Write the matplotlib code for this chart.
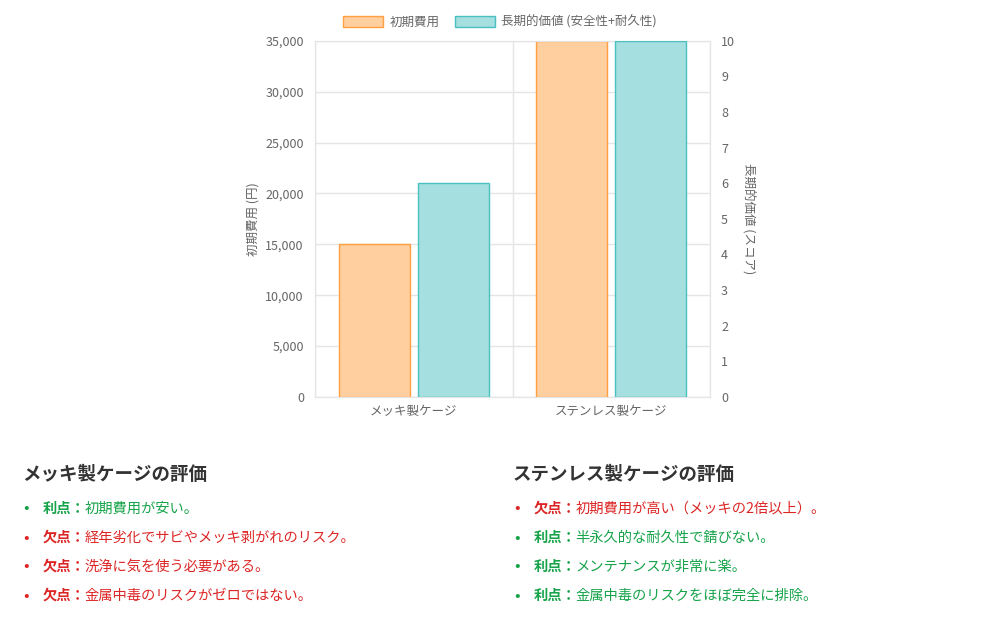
import matplotlib
matplotlib.use("Agg")
import matplotlib.pyplot as plt
from matplotlib.ticker import FuncFormatter, MultipleLocator

plt.rcParams["font.family"] = "Noto Sans CJK JP"

categories = ["メッキ製ケージ", "ステンレス製ケージ"]
initial_cost = [15000, 35000]
long_value = [6, 10]
legend_labels = ["初期費用", "長期的価値 (安全性+耐久性)"]

left_title = "メッキ製ケージの評価"
left_items = [("利点", "初期費用が安い。"), ("欠点", "経年劣化でサビやメッキ剥がれのリスク。"),
              ("欠点", "洗浄に気を使う必要がある。"), ("欠点", "金属中毒のリスクがゼロではない。")]
right_title = "ステンレス製ケージの評価"
right_items = [("欠点", "初期費用が高い（メッキの2倍以上）。"), ("利点", "半永久的な耐久性で錆びない。"),
               ("利点", "メンテナンスが非常に楽。"), ("利点", "金属中毒のリスクをほぼ完全に排除。")]

fig = plt.figure(figsize=(10, 6.28), dpi=100)
ax = fig.add_axes([0.315, 0.368, 0.395, 0.567])
ax2 = ax.twinx()

x = [0, 1]
w = 0.36
ax.bar([i - 0.2 for i in x], initial_cost, w, color="#FFCF9F", edgecolor="#FF9F40", linewidth=1, label=legend_labels[0], zorder=3)
ax2.bar([i + 0.2 for i in x], long_value, w, color="#A5DFDF", edgecolor="#4BC0C0", linewidth=1, label=legend_labels[1], zorder=3)

ax.set_xlim(-0.5, 1.5)
ax.set_ylim(0, 35000)
ax2.set_ylim(0, 10)
ax.yaxis.set_major_locator(MultipleLocator(5000))
ax.yaxis.set_major_formatter(FuncFormatter(lambda v, p: f"{int(v):,}"))
ax2.yaxis.set_major_locator(MultipleLocator(1))
ax.set_xticks(x)
ax.set_xticklabels(categories)
ax.set_xticks([-0.5, 0.5, 1.5], minor=True)
ax.grid(True, axis="y", color="#e5e5e5", linewidth=1, zorder=0)
ax.grid(True, axis="x", which="minor", color="#e5e5e5", linewidth=1, zorder=0)
ax.tick_params(axis="x", which="both", length=0, colors="#666666", labelsize=9, pad=6)
ax.tick_params(axis="y", length=0, colors="#666666", labelsize=9, pad=8)
ax2.tick_params(axis="y", length=0, colors="#666666", labelsize=9, pad=8)
for a in (ax, ax2):
    for s in a.spines.values():
        s.set_color("#e5e5e5")
ax.set_ylabel("初期費用 (円)", color="#666666", fontsize=9)
ax2.set_ylabel("長期的価値 (スコア)", color="#666666", fontsize=9, rotation=270, labelpad=14)

h1, l1 = ax.get_legend_handles_labels()
h2, l2 = ax2.get_legend_handles_labels()
fig.legend(h1 + h2, l1 + l2, loc="center", bbox_to_anchor=(0.5, 0.965), ncol=2, frameon=False,
           fontsize=9, labelcolor="#666666", handlelength=3.2, handleheight=1.0, columnspacing=1.2, handletextpad=0.5)

GREEN = "#16a34a"
RED = "#dc2626"
fig.canvas.draw()
r = fig.canvas.get_renderer()

def block(x0, title, items):
    fig.text(x0 / 1000, 1 - 475 / 628, title, fontsize=13.3, fontweight="bold", color="#333333", va="center")
    for k, (lab, body) in enumerate(items):
        y = 1 - (509 + 29 * k) / 628
        c = GREEN if lab == "利点" else RED
        fig.text((x0 + 1) / 1000, y, "•", fontsize=12, color=c, va="center")
        t = fig.text((x0 + 21) / 1000, y, lab + "：", fontsize=10.3, fontweight="bold", color=c, va="center")
        bb = t.get_window_extent(r)
        fig.text(bb.x1 / 1000 - 0.001, y, body, fontsize=10.3, color=c, va="center")

block(22, left_title, left_items)
block(513, right_title, right_items)

fig.savefig("out.png", dpi=100, facecolor="white")
